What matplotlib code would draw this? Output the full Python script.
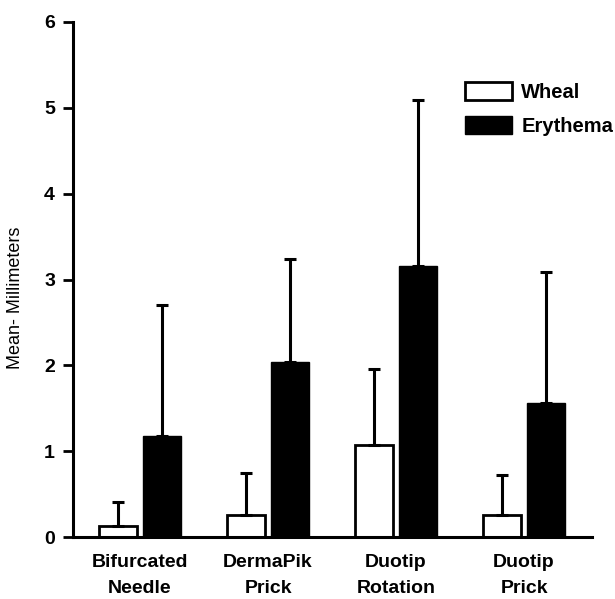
import matplotlib
matplotlib.use("Agg")
import matplotlib.pyplot as plt
import numpy as np
from matplotlib.patches import Patch

plt.rcParams['font.family'] = ['Liberation Sans', 'DejaVu Sans']

categories = ["Bifurcated\nNeedle", "DermaPik\nPrick", "Duotip\nRotation", "Duotip\nPrick"]
wheal_mean = [0.13, 0.26, 1.07, 0.26]
wheal_err = [0.28, 0.49, 0.89, 0.46]
erythema_mean = [1.18, 2.04, 3.16, 1.56]
erythema_err = [1.52, 1.20, 1.93, 1.53]
yticks = [0, 1, 2, 3, 4, 5, 6]

fig = plt.figure(figsize=(6.15, 5.99), dpi=100)
ax = fig.add_axes([73/615, 1-537/599, (592-73)/615, (537-22)/599])

x = np.arange(len(categories))
w = 0.30
off = 0.172
ekw = dict(elinewidth=2.2, capthick=2.2, capsize=4.6, ecolor='black')
ax.bar(x - off, wheal_mean, w, color='white', edgecolor='black', linewidth=2,
       yerr=[np.zeros(4), wheal_err], error_kw=ekw, zorder=2)
ax.bar(x + off, erythema_mean, w, color='black', edgecolor='black', linewidth=1,
       yerr=[np.zeros(4), erythema_err], error_kw=ekw, zorder=2)

ax.set_xlim(-67/128, (592-140)/128)
ax.set_ylim(0, 6)
ax.set_yticks(yticks)
ax.set_yticklabels([str(t) for t in yticks], fontweight='bold', fontsize=14)
ax.set_xticks(x)
ax.set_xticklabels(categories, fontweight='bold', fontsize=14, linespacing=1.7)
ax.tick_params(axis='x', length=0, pad=12)
ax.tick_params(axis='y', length=7, width=2, pad=6, direction='out')
for s in ['top', 'right']:
    ax.spines[s].set_visible(False)
for s in ['left', 'bottom']:
    ax.spines[s].set_linewidth(2.2)

ax.set_ylabel("Mean- Millimeters", fontsize=13)
ax.yaxis.set_label_coords(-0.094, (537-298)/515)

handles = [Patch(facecolor='white', edgecolor='black', linewidth=2, label='Wheal'),
           Patch(facecolor='black', edgecolor='black', label='Erythema')]
leg = fig.legend(handles=handles, loc='upper left', bbox_to_anchor=(465/615, 1-82/599),
                 frameon=False, prop={'weight': 'bold', 'size': 14.5},
                 handlelength=2.35, handleheight=1.0, labelspacing=0.7,
                 handletextpad=0.45, borderpad=0, borderaxespad=0)

fig.savefig("out.png", dpi=100)
